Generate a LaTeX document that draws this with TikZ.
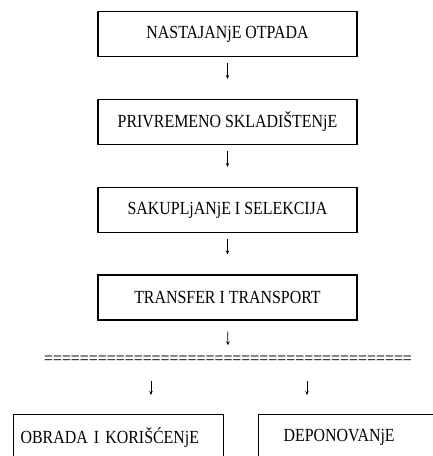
\documentclass[tikz,border=0pt]{standalone}
\usepackage{fontspec}
\setmainfont{Liberation Serif}[FakeStretch=0.86]
\usetikzlibrary{arrows.meta}
\begin{document}
\begin{tikzpicture}[x=1pt,y=-1pt,font=\fontsize{18.5}{21}\selectfont]
		\tikzstyle{korak}=[draw,line width=1.2pt,shape=rectangle,minimum width=259pt,minimum height=45pt]
		\tikzstyle{dno}=[draw,line width=1.2pt,shape=rectangle,anchor=north west,minimum height=46pt,align=left]
		\tikzstyle{strelica}=[-{Stealth[length=4pt,width=3.5pt]},line width=0.7pt,shorten <=6pt,shorten >=20pt]
		\useasboundingbox (0,0) rectangle (433,456);

		\node[korak](nast) at (227.5,34){NASTAJANjE OTPADA};
		\node[korak](priv) at (227.5,122){PRIVREMENO SKLADIŠTENjE};
		\node[korak](sak) at (227.5,210){SAKUPLjANjE I SELEKCIJA};
		\node[korak](trans) at (227.5,297.5){TRANSFER I TRANSPORT};
		\node(linija) at (228,360){=========================================};

		\node[dno,text width=196pt,inner xsep=7pt](obrada) at (13,414){OBRADA I KORIŠĆENjE};
		\node[dno,text width=165pt,inner xsep=25pt](depo) at (258,414){DEPONOVANjE};

		\coordinate (lev) at (151,381);
		\coordinate (des) at (307,381);

		\draw[strelica] (nast) -- (priv);
		\draw[strelica] (priv) -- (sak);
		\draw[strelica] (sak) -- (trans);
		\draw[strelica,shorten <=11pt,shorten >=7pt] (trans) -- (linija);
		\draw[strelica,shorten <=0pt,shorten >=19pt] (lev) -- (lev |- obrada.north);
		\draw[strelica,shorten <=0pt,shorten >=19pt] (des) -- (des |- depo.north);
	\end{tikzpicture}
\end{document}
